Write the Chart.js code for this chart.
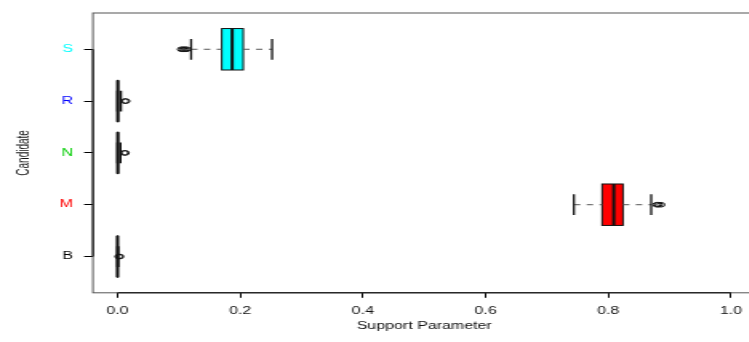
<!DOCTYPE html>
<html lang="en">
<head>
    <meta charset="UTF-8">
    <title>Support Parameter by Candidate</title>
    <script src="https://cdn.jsdelivr.net/npm/chart.js"></script>
    <style>
        body { margin: 0; overflow: hidden; background: #fff; }
        /* the plot is laid out narrow and stretched sideways */
        #wrap { width: 480px; height: 342px; transform: scaleX(1.6); transform-origin: 0 0; }
    </style>
</head>
<body>
    <div id="wrap">
        <canvas id="boxChart"></canvas>
    </div>

    <script>
        const candidates = ['B', 'M', 'N', 'R', 'S'];
        const whiskerLow = [0, 0.744, 0, 0, 0.120];
        const quartile1 = [0, 0.790, 0, 0, 0.170];
        const medians = [0, 0.809, 0.0005, 0.0005, 0.187];
        const quartile3 = [0.0005, 0.824, 0.001, 0.001, 0.205];
        const whiskerHigh = [0.0015, 0.870, 0.005, 0.0057, 0.252];
        const outliers = [
            [0.002, 0.004],
            [0.879, 0.882, 0.886],
            [0.011, 0.013],
            [0.012, 0.014],
            [0.104, 0.107, 0.110, 0.113]
        ];
        const xTicks = [0, 0.2, 0.4, 0.6, 0.8, 1.0];

        const candidateColors = ['#000000', '#FF0000', '#00CD00', '#0000FF', '#00FFFF'];
        const fontFamily = '"Liberation Sans", Arial, Helvetica, sans-serif';
        const boxWidth = 0.8;     // in y units
        const stapleWidth = 0.4;

        // boxes, medians, whiskers and staples, drawn under the outlier points
        const boxplotPlugin = {
            id: 'boxplot',
            beforeDatasetsDraw(chart) {
                const { ctx, chartArea: a, scales: { x, y } } = chart;
                ctx.save();

                ctx.strokeStyle = '#555';
                ctx.lineWidth = 1;
                ctx.strokeRect(a.left, a.top, a.right - a.left, a.bottom - a.top);

                // axis lines run between the outer ticks only
                ctx.strokeStyle = '#000';
                ctx.beginPath();
                ctx.moveTo(x.getPixelForValue(xTicks[0]), a.bottom);
                ctx.lineTo(x.getPixelForValue(xTicks[xTicks.length - 1]), a.bottom);
                ctx.moveTo(a.left, y.getPixelForValue(1));
                ctx.lineTo(a.left, y.getPixelForValue(candidates.length));
                ctx.stroke();

                const unit = Math.abs(y.getPixelForValue(1) - y.getPixelForValue(0));
                candidates.forEach((name, i) => {
                    const yc = y.getPixelForValue(i + 1);
                    const hb = unit * boxWidth / 2;
                    const hs = unit * stapleWidth / 2;
                    const q1 = x.getPixelForValue(quartile1[i]);
                    const q3 = x.getPixelForValue(quartile3[i]);
                    const md = x.getPixelForValue(medians[i]);
                    const lo = x.getPixelForValue(whiskerLow[i]);
                    const hi = x.getPixelForValue(whiskerHigh[i]);

                    ctx.fillStyle = candidateColors[i];
                    ctx.fillRect(q1, yc - hb, q3 - q1, hb * 2);
                    ctx.strokeStyle = '#111';
                    ctx.lineWidth = 1;
                    ctx.setLineDash([]);
                    ctx.strokeRect(q1, yc - hb, q3 - q1, hb * 2);

                    ctx.lineWidth = 2;
                    ctx.beginPath();
                    ctx.moveTo(md, yc - hb);
                    ctx.lineTo(md, yc + hb);
                    ctx.stroke();

                    ctx.strokeStyle = '#555';
                    ctx.lineWidth = 1;
                    ctx.setLineDash([4, 4]);
                    ctx.beginPath();
                    ctx.moveTo(lo, yc);
                    ctx.lineTo(q1, yc);
                    ctx.moveTo(q3, yc);
                    ctx.lineTo(hi, yc);
                    ctx.stroke();

                    ctx.setLineDash([]);
                    ctx.strokeStyle = '#111';
                    ctx.lineWidth = 1.3;
                    ctx.beginPath();
                    ctx.moveTo(lo, yc - hs);
                    ctx.lineTo(lo, yc + hs);
                    ctx.moveTo(hi, yc - hs);
                    ctx.lineTo(hi, yc + hs);
                    ctx.stroke();
                });
                ctx.restore();
            }
        };

        const outlierPoints = outliers.flatMap((vals, i) => vals.map(v => ({ x: v, y: i + 1 })));

        new Chart(document.getElementById('boxChart'), {
            type: 'scatter',
            data: {
                datasets: [{
                    label: 'outliers',
                    data: outlierPoints,
                    pointStyle: 'circle',
                    pointRadius: 2.3,
                    borderWidth: 1,
                    borderColor: '#111',
                    backgroundColor: 'rgba(0,0,0,0)'
                }]
            },
            plugins: [boxplotPlugin],
            options: {
                responsive: true,
                maintainAspectRatio: false,
                animation: false,
                events: [],
                layout: { padding: { left: 0, right: 7.8, top: 10.5, bottom: 0 } },
                plugins: { legend: { display: false }, tooltip: { enabled: false } },
                scales: {
                    x: {
                        type: 'linear',
                        min: -0.04,
                        max: 1.04,
                        afterBuildTicks: s => { s.ticks = xTicks.map(v => ({ value: v })); },
                        afterFit: s => { s.height = 49.2; },
                        border: { display: false },
                        grid: { drawOnChartArea: false, drawTicks: true, tickLength: 5, color: '#000', lineWidth: 1 },
                        ticks: {
                            autoSkip: false,
                            maxRotation: 0,
                            padding: 7.5,
                            color: '#111',
                            font: { family: fontFamily, size: 10 },
                            callback: v => v.toFixed(1)
                        },
                        title: {
                            display: true,
                            text: 'Support Parameter',
                            color: '#111',
                            font: { family: fontFamily, size: 10 },
                            padding: { top: 0, bottom: 10 }
                        }
                    },
                    y: {
                        type: 'linear',
                        min: 0.3,
                        max: 5.7,
                        afterBuildTicks: s => { s.ticks = candidates.map((c, i) => ({ value: i + 1 })); },
                        afterFit: s => { s.width = 58.1; },
                        border: { display: false },
                        grid: { drawOnChartArea: false, drawTicks: true, tickLength: 5.5, color: '#000', lineWidth: 1 },
                        ticks: {
                            autoSkip: false,
                            padding: 7,
                            color: c => candidateColors[c.index],
                            font: { family: fontFamily, size: 10 },
                            callback: v => candidates[v - 1]
                        },
                        title: {
                            display: true,
                            text: 'Candidate',
                            color: '#111',
                            font: { family: fontFamily, size: 10 },
                            padding: { top: 9, bottom: 0 }
                        }
                    }
                }
            }
        });
    </script>
</body>
</html>
